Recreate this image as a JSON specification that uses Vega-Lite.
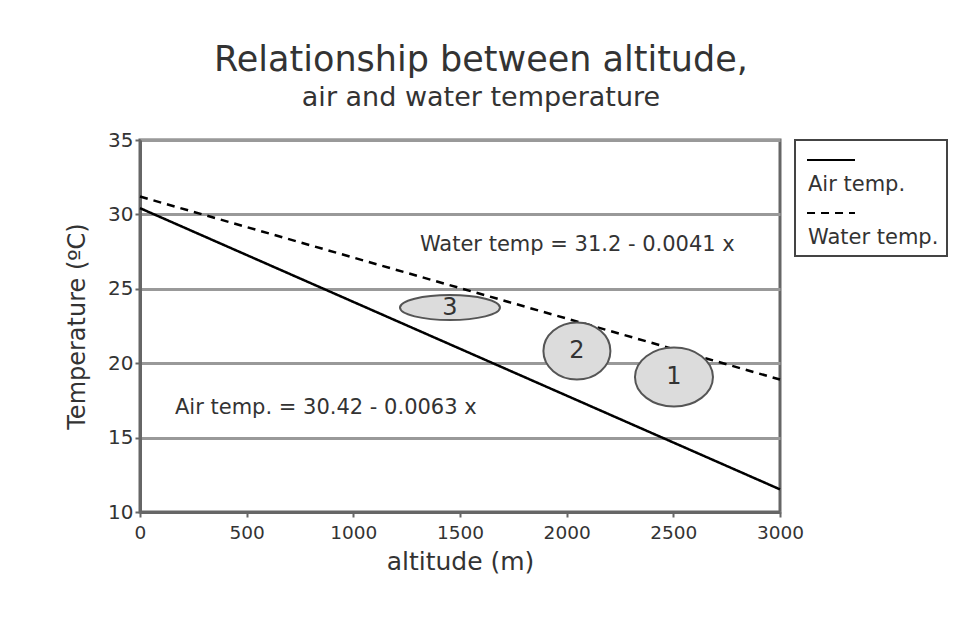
{
  "$schema": "https://vega.github.io/schema/vega-lite/v6.json",
  "width": 640,
  "height": 372,
  "autosize": {"type": "none"},
  "padding": {"left": 140, "top": 140, "right": 197, "bottom": 123},
  "background": "white",
  "title": {
    "text": "Relationship between altitude,",
    "subtitle": "air and water temperature",
    "anchor": "middle",
    "frame": "group",
    "dx": 21,
    "font": "DejaVu Sans",
    "subtitleFont": "DejaVu Sans",
    "fontSize": 35,
    "subtitleFontSize": 27,
    "fontWeight": "normal",
    "color": "#333",
    "subtitleColor": "#333",
    "offset": 19,
    "subtitlePadding": 7
  },
  "config": {
    "font": "DejaVu Sans",
    "view": {"stroke": "#666", "strokeWidth": 3},
    "axis": {
      "domainColor": "#666",
      "domainWidth": 3,
      "tickColor": "#666",
      "tickWidth": 2,
      "tickSize": 5,
      "labelColor": "#333",
      "titleColor": "#333",
      "titleFontWeight": "normal",
      "labelFlush": false
    },
    "legend": {
      "strokeColor": "#444",
      "strokeWidth": 2,
      "fillColor": "white",
      "padding": 8
    }
  },
  "datasets": {
    "lines": [
      {"series": "Air temp.", "altitude": 0, "temperature": 30.42},
      {"series": "Air temp.", "altitude": 3000, "temperature": 11.52},
      {"series": "Water temp.", "altitude": 0, "temperature": 31.2},
      {"series": "Water temp.", "altitude": 3000, "temperature": 18.9}
    ],
    "zones": [
      {"id": "1", "altitude": 2503, "temperature": 19.07},
      {"id": "2", "altitude": 2048, "temperature": 20.82},
      {"id": "3", "altitude": 1453, "temperature": 23.74}
    ],
    "notes": [
      {"label": "Water temp = 31.2 - 0.0041 x", "altitude": 1312, "temperature": 27.94},
      {"label": "Air temp. = 30.42 - 0.0063 x", "altitude": 164, "temperature": 17.0}
    ]
  },
  "layer": [
    {
      "data": {"name": "lines"},
      "mark": {"type": "line", "color": "black", "strokeWidth": 2.5},
      "encoding": {
        "x": {
          "field": "altitude",
          "type": "quantitative",
          "scale": {"domain": [0, 3000], "nice": false},
          "axis": {
            "values": [0, 500, 1000, 1500, 2000, 2500, 3000],
            "format": "d",
            "title": "altitude (m)",
            "grid": false,
            "labelFontSize": 18.5,
            "titleFontSize": 25,
            "labelPadding": 6,
            "titlePadding": 8
          }
        },
        "y": {
          "field": "temperature",
          "type": "quantitative",
          "scale": {"domain": [10, 35], "nice": false, "zero": false},
          "axis": {
            "values": [10, 15, 20, 25, 30, 35],
            "title": "Temperature (ºC)",
            "grid": true,
            "gridColor": "#999",
            "gridWidth": 3,
            "labelFontSize": 20,
            "labelPadding": 2,
            "titleFontSize": 24,
            "titlePadding": 18
          }
        },
        "strokeDash": {
          "field": "series",
          "type": "nominal",
          "scale": {"domain": ["Air temp.", "Water temp."], "range": [[1, 0], [8, 6]]},
          "legend": {
            "title": " ",
            "titleFontSize": 6,
            "titlePadding": 6,
            "orient": "right",
            "offset": 10,
            "symbolType": "M-1,-1.04H1",
            "symbolSize": 2300,
            "symbolStrokeWidth": 2,
            "symbolStrokeColor": "black",
            "symbolFillColor": "transparent",
            "symbolOffset": 3,
            "labelFontSize": 21,
            "labelColor": "#333",
            "labelOffset": -48,
            "labelBaseline": "middle",
            "labelLimit": 240,
            "labelExpr": "datum.label + '      '",
            "rowPadding": 14
          }
        }
      }
    },
    {
      "data": {"name": "zones"},
      "mark": {"type": "point", "filled": true, "fill": "#dcdcdc", "stroke": "#555", "strokeWidth": 2, "opacity": 1, "size": 10000},
      "encoding": {
        "x": {"field": "altitude", "type": "quantitative"},
        "y": {"field": "temperature", "type": "quantitative"},
        "shape": {
          "field": "id",
          "type": "nominal",
          "scale": {
            "domain": ["1", "2", "3"],
            "range": [
              "M-0.78,0A0.78,0.59 0 1,0 0.78,0A0.78,0.59 0 1,0 -0.78,0Z",
              "M-0.67,0A0.67,0.57 0 1,0 0.67,0A0.67,0.57 0 1,0 -0.67,0Z",
              "M-1,0A1,0.25 0 1,0 1,0A1,0.25 0 1,0 -1,0Z"
            ]
          },
          "legend": null
        }
      }
    },
    {
      "data": {"name": "zones"},
      "mark": {"type": "text", "fontSize": 24, "color": "#333", "align": "center", "baseline": "middle"},
      "encoding": {
        "x": {"field": "altitude", "type": "quantitative"},
        "y": {"field": "temperature", "type": "quantitative"},
        "text": {"field": "id"}
      }
    },
    {
      "data": {"name": "notes"},
      "mark": {"type": "text", "fontSize": 21, "color": "#333", "align": "left", "baseline": "middle"},
      "encoding": {
        "x": {"field": "altitude", "type": "quantitative"},
        "y": {"field": "temperature", "type": "quantitative"},
        "text": {"field": "label"}
      }
    }
  ]
}
